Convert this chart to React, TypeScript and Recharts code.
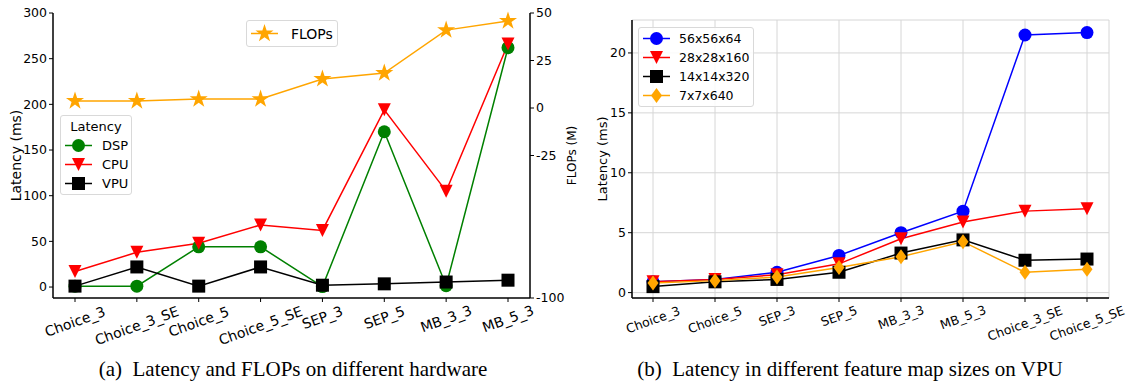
import { LineChart, Line, XAxis, YAxis, CartesianGrid } from "recharts";

// (a) latency / FLOPs per hardware
const hwCategories = ["Choice_3", "Choice_3_SE", "Choice_5", "Choice_5_SE", "SEP_3", "SEP_5", "MB_3_3", "MB_5_3"];
const dspLatency = [1, 1, 44, 44, 0.5, 170, 1.5, 262];
const cpuLatency = [17, 38, 48, 68, 62, 194, 105, 266];
const vpuLatency = [1, 22, 1, 22, 2, 3.5, 5.5, 7.5];
const flops = [3.7, 3.7, 4.7, 4.7, 15.3, 18.4, 41, 45.8];
const latencyTicks = [0, 50, 100, 150, 200, 250, 300];
const flopsTicks = [-100, -25, 0, 25, 50];

// (b) latency per feature map size on VPU
const vpuCategories = ["Choice_3", "Choice_5", "SEP_3", "SEP_5", "MB_3_3", "MB_5_3", "Choice_3_SE", "Choice_5_SE"];
const map56 = [0.9, 1.1, 1.7, 3.1, 5.0, 6.8, 21.5, 21.7];
const map28 = [0.9, 1.1, 1.5, 2.4, 4.5, 5.9, 6.8, 7.0];
const map14 = [0.5, 0.9, 1.1, 1.7, 3.3, 4.4, 2.7, 2.8];
const map7 = [0.8, 1.0, 1.3, 2.1, 3.0, 4.25, 1.7, 1.95];
const vpuTicks = [0, 5, 10, 15, 20];

const hwData = hwCategories.map((name, i) => ({
  name,
  dsp: dspLatency[i],
  cpu: cpuLatency[i],
  vpu: vpuLatency[i],
  flops: flops[i],
}));

const vpuData = vpuCategories.map((name, i) => ({
  name,
  m56: map56[i],
  m28: map28[i],
  m14: map14[i],
  m7: map7[i],
}));

const FONT = "'DejaVu Sans', sans-serif";

type Kind = "circle" | "triangle" | "square" | "star" | "diamond";

function Marker({ kind, cx, cy, color }: { kind: Kind; cx: number; cy: number; color: string }) {
  if (cx == null || cy == null) return null;
  if (kind === "circle") return <circle cx={cx} cy={cy} r={6.5} fill={color} />;
  if (kind === "square")
    return <rect x={cx - 6.5} y={cy - 6.5} width={13} height={13} fill={color} />;
  if (kind === "triangle")
    return (
      <path
        d={`M${cx - 6.5},${cy - 6.5} L${cx + 6.5},${cy - 6.5} L${cx},${cy + 6.5} Z`}
        fill={color}
      />
    );
  if (kind === "diamond")
    return (
      <path
        d={`M${cx},${cy - 7.5} L${cx + 5.5},${cy} L${cx},${cy + 7.5} L${cx - 5.5},${cy} Z`}
        fill={color}
      />
    );
  // star
  const R = 9.5;
  const r = R * 0.382;
  const pts: string[] = [];
  for (let k = 0; k < 10; k++) {
    const rad = k % 2 === 0 ? R : r;
    const a = -Math.PI / 2 + (k * Math.PI) / 5;
    pts.push(`${cx + rad * Math.cos(a)},${cy + rad * Math.sin(a)}`);
  }
  return <polygon points={pts.join(" ")} fill={color} />;
}

const dotOf = (kind: Kind, color: string) => (p: any) =>
  <Marker key={`${kind}-${p.index}`} kind={kind} cx={p.cx} cy={p.cy} color={color} />;

const RotTick = (fontSize: number) => (props: any) => {
  const { x, y, payload } = props;
  const len = String(payload.value).length * 0.57 * fontSize;
  const h = 0.342 * len + 0.94 * fontSize;
  const cy = y + h / 2;
  return (
    <text
      x={x}
      y={cy}
      transform={`rotate(-20 ${x} ${cy})`}
      textAnchor="middle"
      dominantBaseline="central"
      fontSize={fontSize}
      fontFamily={FONT}
      fill="#000"
    >
      {payload.value}
    </text>
  );
};

const axisLabel = (value: string, dx: number, fontSize: number) => (props: any) => {
  const vb = props.viewBox;
  const cx = vb.x + dx;
  const cy = vb.y + vb.height / 2;
  return (
    <text
      x={cx}
      y={cy}
      transform={`rotate(-90 ${cx} ${cy})`}
      textAnchor="middle"
      dominantBaseline="central"
      fontSize={fontSize}
      fontFamily={FONT}
      fill="#000"
    >
      {value}
    </text>
  );
};

interface ILegendItem {
  label: string;
  kind: Kind;
  color: string;
}

function LegendBox({
  left,
  top,
  width,
  title,
  items,
  fontSize,
  rowH,
  textX,
}: {
  left: number;
  top: number;
  width: number;
  title?: string;
  items: ILegendItem[];
  fontSize: number;
  rowH: number;
  textX: number;
}) {
  return (
    <div
      style={{
        position: "absolute",
        left,
        top,
        width,
        boxSizing: "border-box",
        border: "1px solid #d9d9d9",
        borderRadius: 3,
        background: "rgba(255,255,255,0.85)",
        fontFamily: FONT,
        fontSize,
        color: "#000",
        padding: "1px 0",
      }}
    >
      {title && (
        <div style={{ height: rowH, lineHeight: `${rowH}px`, textAlign: "center" }}>{title}</div>
      )}
      {items.map((it) => (
        <div key={it.label} style={{ height: rowH, display: "flex", alignItems: "center" }}>
          <svg width={textX} height={rowH} style={{ flex: "none" }}>
            <line x1={4} x2={31} y1={rowH / 2} y2={rowH / 2} stroke={it.color} strokeWidth={1.5} />
            <Marker kind={it.kind} cx={17.5} cy={rowH / 2} color={it.color} />
          </svg>
          <span style={{ whiteSpace: "nowrap" }}>{it.label}</span>
        </div>
      ))}
    </div>
  );
}

function HardwareChart() {
  return (
    <div style={{ position: "absolute", left: 0, top: 0, width: 580, height: 350 }}>
      <LineChart width={580} height={350} data={hwData} margin={{ top: 13, right: 0, left: 0, bottom: 0 }}>
        <XAxis
          dataKey="name"
          interval={0}
          height={52}
          padding={{ left: 22, right: 22 }}
          tick={RotTick(14)}
          tickSize={4}
          tickMargin={2}
          axisLine={{ stroke: "#000", strokeWidth: 1.5 }}
          tickLine={{ stroke: "#000" }}
        />
        <XAxis
          xAxisId="top"
          dataKey="name"
          orientation="top"
          height={0}
          tick={false}
          tickLine={false}
          axisLine={{ stroke: "#000", strokeWidth: 1.5 }}
        />
        <YAxis
          yAxisId="lat"
          width={53}
          domain={[-12, 300]}
          ticks={latencyTicks}
          tickSize={4}
          tickMargin={2}
          tick={{ fontSize: 12.5, fill: "#000", fontFamily: FONT }}
          axisLine={{ stroke: "#000", strokeWidth: 1.5 }}
          tickLine={{ stroke: "#000" }}
          label={{ content: axisLabel("Latency (ms)", 16, 14) }}
        />
        <YAxis
          yAxisId="flops"
          orientation="right"
          width={50}
          domain={[-100, 50]}
          ticks={flopsTicks}
          tickSize={4}
          tickMargin={2}
          tick={{ fontSize: 12.5, fill: "#000", fontFamily: FONT }}
          axisLine={{ stroke: "#000", strokeWidth: 1.5 }}
          tickLine={{ stroke: "#000" }}
          label={{ content: axisLabel("FLOPs (M)", 42, 12) }}
        />
        <Line yAxisId="lat" dataKey="dsp" stroke="green" strokeWidth={1.5} dot={dotOf("circle", "green")} activeDot={false} isAnimationActive={false} />
        <Line yAxisId="lat" dataKey="cpu" stroke="red" strokeWidth={1.5} dot={dotOf("triangle", "red")} activeDot={false} isAnimationActive={false} />
        <Line yAxisId="lat" dataKey="vpu" stroke="black" strokeWidth={1.5} dot={dotOf("square", "black")} activeDot={false} isAnimationActive={false} />
        <Line yAxisId="flops" dataKey="flops" stroke="orange" strokeWidth={1.5} dot={dotOf("star", "orange")} activeDot={false} isAnimationActive={false} />
      </LineChart>
      <LegendBox
        left={246}
        top={20}
        width={92}
        rowH={23}
        fontSize={14}
        textX={44}
        items={[{ label: "FLOPs", kind: "star", color: "orange" }]}
      />
      <LegendBox
        left={60}
        top={115}
        width={72}
        rowH={19}
        fontSize={13}
        textX={41}
        title="Latency"
        items={[
          { label: "DSP", kind: "circle", color: "green" },
          { label: "CPU", kind: "triangle", color: "red" },
          { label: "VPU", kind: "square", color: "black" },
        ]}
      />
    </div>
  );
}

function VpuChart() {
  return (
    <div style={{ position: "absolute", left: 580, top: 0, width: 548, height: 350 }}>
      <LineChart width={548} height={350} data={vpuData} margin={{ top: 20, right: 19, left: 0, bottom: 0 }}>
        <CartesianGrid stroke="#d6d6d6" strokeWidth={1} />
        <XAxis
          dataKey="name"
          interval={0}
          height={52}
          padding={{ left: 21, right: 22 }}
          tick={RotTick(12.5)}
          tickSize={4}
          tickMargin={2}
          axisLine={{ stroke: "#000", strokeWidth: 1.5 }}
          tickLine={{ stroke: "#000" }}
        />
        <XAxis
          xAxisId="top"
          dataKey="name"
          orientation="top"
          height={0}
          tick={false}
          tickLine={false}
          axisLine={{ stroke: "#222", strokeWidth: 1.5 }}
        />
        <YAxis
          width={52}
          domain={[-0.45, 22.75]}
          ticks={vpuTicks}
          tickSize={4}
          tickMargin={2}
          tick={{ fontSize: 12.5, fill: "#000", fontFamily: FONT }}
          axisLine={{ stroke: "#000", strokeWidth: 1.5 }}
          tickLine={{ stroke: "#000" }}
          label={{ content: axisLabel("Latency (ms)", 22, 13) }}
        />
        <YAxis
          yAxisId="frame"
          orientation="right"
          width={0}
          domain={[0, 1]}
          tick={false}
          tickLine={false}
          axisLine={{ stroke: "#222", strokeWidth: 1.5 }}
        />
        <Line dataKey="m56" stroke="blue" strokeWidth={1.5} dot={dotOf("circle", "blue")} activeDot={false} isAnimationActive={false} />
        <Line dataKey="m28" stroke="red" strokeWidth={1.5} dot={dotOf("triangle", "red")} activeDot={false} isAnimationActive={false} />
        <Line dataKey="m14" stroke="black" strokeWidth={1.5} dot={dotOf("square", "black")} activeDot={false} isAnimationActive={false} />
        <Line dataKey="m7" stroke="orange" strokeWidth={1.5} dot={dotOf("diamond", "orange")} activeDot={false} isAnimationActive={false} />
      </LineChart>
      <LegendBox
        left={58}
        top={27}
        width={116}
        rowH={19}
        fontSize={12.5}
        textX={40}
        items={[
          { label: "56x56x64", kind: "circle", color: "blue" },
          { label: "28x28x160", kind: "triangle", color: "red" },
          { label: "14x14x320", kind: "square", color: "black" },
          { label: "7x7x640", kind: "diamond", color: "orange" },
        ]}
      />
    </div>
  );
}

const captionStyle = {
  position: "absolute" as const,
  top: 357,
  fontFamily: "'Liberation Serif', serif",
  fontSize: 21,
  lineHeight: "24px",
  textAlign: "center" as const,
  whiteSpace: "pre" as const,
  color: "#000",
};

export default function App() {
  return (
    <div
      style={{
        position: "absolute",
        left: 0,
        top: 0,
        width: 1128,
        height: 381,
        background: "#fff",
        overflow: "hidden",
      }}
    >
      <HardwareChart />
      <VpuChart />
      <div style={{ ...captionStyle, left: 73, width: 440 }}>(a)  Latency and FLOPs on different hardware</div>
      <div style={{ ...captionStyle, left: 600, width: 500 }}>(b)  Latency in different feature map sizes on VPU</div>
    </div>
  );
}
